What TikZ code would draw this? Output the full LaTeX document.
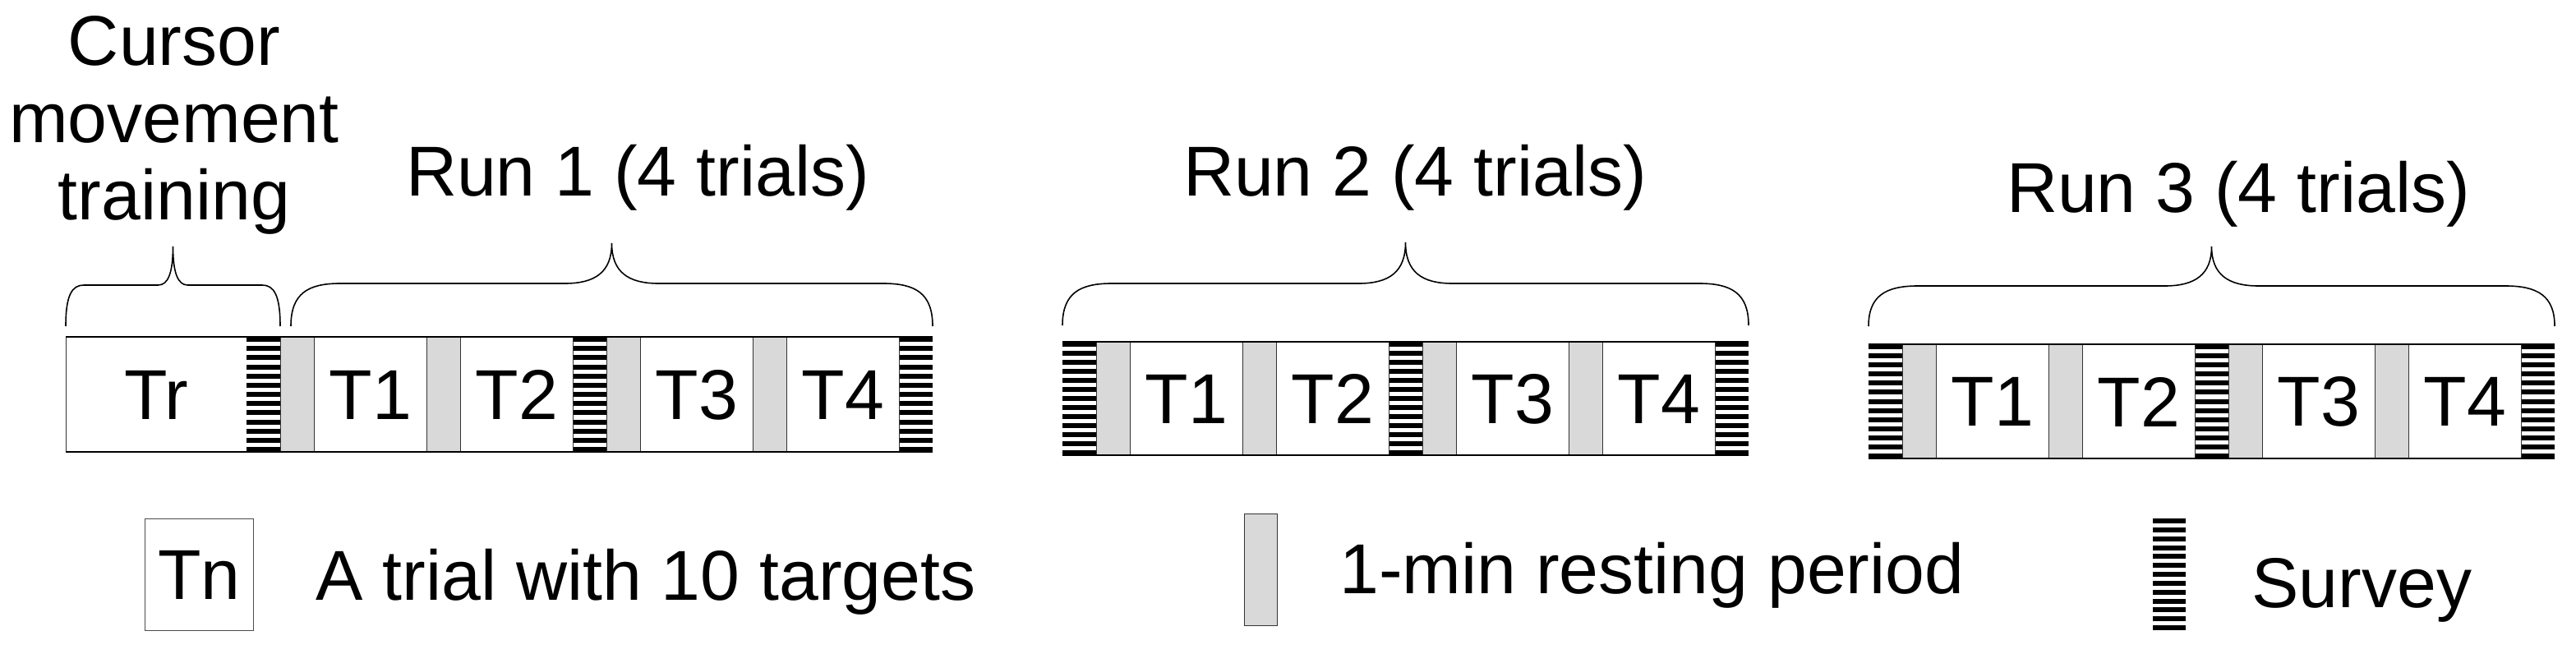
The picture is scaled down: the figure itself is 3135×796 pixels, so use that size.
\documentclass[tikz,border=0pt]{standalone}
\usepackage{fontspec}
\setmainfont{Liberation Sans}
\newcommand\survbar[4]{% x ytop w h
  \fill[white] (#1,#2) rectangle ++(#3,#4);
  \pgfmathsetmacro\pp{(#4-6)/12}
  \foreach \k in {0,...,12}{\fill[black] (#1,{#2+\k*\pp}) rectangle ++(#3,6);}
}
\newcommand\bracepath[7]{% x0 x1 ybottom yflat ytip r c
  \pgfmathsetmacro\xm{(#1+#2)/2}
  \draw[brace] (#1,#3) .. controls (#1,{#4+12}) and ({#1+#6*0.35},#4) .. ({#1+#6},#4)
    -- ({\xm-#7},#4) .. controls ({\xm-#7*0.35},#4) and (\xm,{#4-14}) .. (\xm,#5)
    .. controls (\xm,{#4-14}) and ({\xm+#7*0.35},#4) .. ({\xm+#7},#4)
    -- ({#2-#6},#4) .. controls ({#2-#6*0.35},#4) and (#2,{#4+12}) .. (#2,#3);
}
\newcommand\runrow[4]{% x0 ytop h prefix
  \foreach \o [count=\i] in {0,397,794}{\survbar{#1+\o}{#2}{41}{#3}}
  \foreach \o [count=\i] in {41,219,438,616}{
    \node[rest, minimum width=20.5pt, minimum height=#3*0.5pt] (#4r\i) at ({#1+\o},#2) {};}
  \foreach \o/\l [count=\i] in {82/T1,260/T2,479/T3,657/T4}{
    \node[trial, minimum width=68.5pt, minimum height=#3*0.5pt] (#4t\i) at ({#1+\o},#2) {\l};}
  \draw[line width=1pt] (#1,#2) -- ++(835,0) (#1,{#2+#3}) -- ++(835,0);
}
\tikzset{
  rest/.style={draw=black!80, line width=0.6pt, fill=black!15, anchor=north west, inner sep=0pt},
  trial/.style={draw=black!80, line width=0.6pt, fill=white, anchor=north west, inner sep=0pt, font=\fontsize{43}{50}\selectfont},
  lbl/.style={font=\fontsize{43}{47}\selectfont, inner sep=0pt, align=center},
  brace/.style={line width=0.8pt},
}
\begin{document}
\begin{tikzpicture}[x=0.5pt,y=-0.5pt]
\useasboundingbox (0,0) rectangle (3135,796);
% Run 1
\node[trial, minimum width=110pt, minimum height=70pt] (tr) at (80,410) {Tr};
\runrow{300}{410}{140}{a}
\draw[line width=1pt] (80,410) -- (300,410) (80,550) -- (300,550);
% Run 2, Run 3
\runrow{1293}{416}{138}{b}
\runrow{2274}{419}{139}{c}
% braces
\bracepath{80}{341}{397}{347}{300}{22}{18}
\bracepath{354}{1135}{397}{345}{296}{60}{57}
\bracepath{1293}{2128}{396}{345}{295}{60}{57}
\bracepath{2274}{3109}{397}{348}{300}{60}{57}
% labels
\node[lbl] (ctrain) at (212,152) {Cursor\\movement\\training};
\node[lbl] (run1) at (776,216) {Run 1 (4 trials)};
\node[lbl] (run2) at (1722,216) {Run 2 (4 trials)};
\node[lbl] (run3) at (2724,236) {Run 3 (4 trials)};
% legend
\node[trial, draw=black!70, minimum width=66pt, minimum height=68pt] (ltn) at (176,631) {Tn};
\node[lbl, anchor=west] (ltxt) at (384,708) {A trial with 10 targets};
\node[rest, minimum width=20pt, minimum height=68pt] (lrest) at (1514,625) {};
\node[lbl, anchor=west] (lrtxt) at (1630,700) {1-min resting period};
\survbar{2620}{631}{40}{136}
\node[lbl, anchor=west] (lstxt) at (2740,718) {Survey};
\end{tikzpicture}
\end{document}
